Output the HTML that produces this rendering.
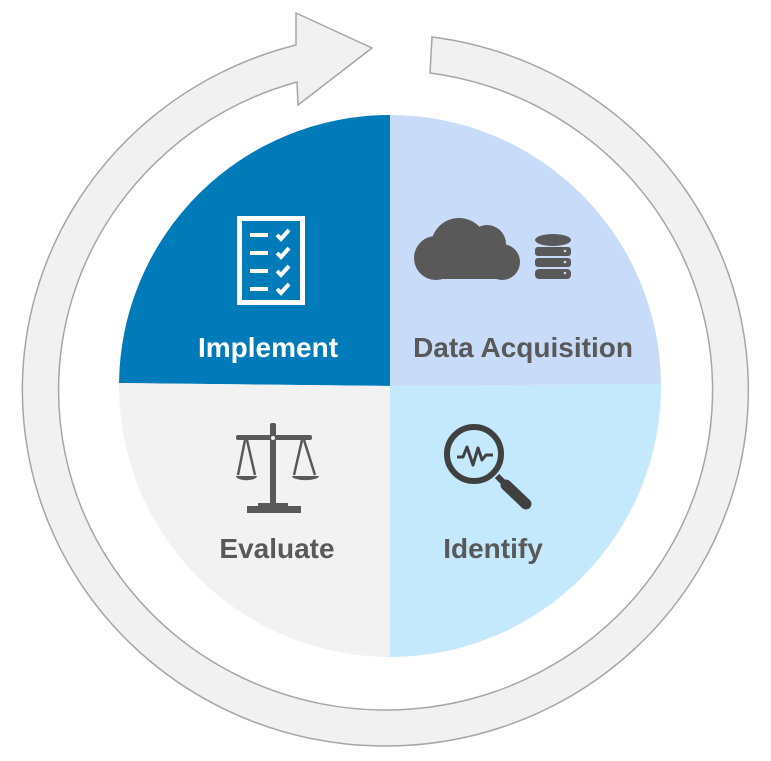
<!DOCTYPE html>
<html><head><style>body{margin:0;background:#fff}svg{display:block}</style></head><body>
<svg width="771" height="761" viewBox="0 0 771 761" xmlns="http://www.w3.org/2000/svg">
<path d="M432,37 A363,356 0 1 1 296,45 L296,13 L372,48 L298,105 L297,82 A327,320 0 1 0 430,73 Z" fill="#f1f1f1" stroke="#a6a6a6" stroke-width="1.5"/>
<path d="M390,386 L390,115 A271,271 0 0 0 119,383 Z" fill="#007bba"/>
<path d="M390,386 L390,115 A271,271 0 0 1 661,384 Z" fill="#c8dcf9"/>
<path d="M390,386 L119,383 A271,271 0 0 0 390,657 Z" fill="#f2f2f2"/>
<path d="M390,386 L661,384 A271,271 0 0 1 390,657 Z" fill="#c4e8fc"/>
<!-- clipboard -->
<rect x="239.5" y="218.5" width="63" height="84" fill="none" stroke="#fff" stroke-width="5"/>
<g stroke="#fff" stroke-width="4" fill="none">
<line x1="250" y1="235" x2="268" y2="235"/><line x1="250" y1="253" x2="268" y2="253"/><line x1="250" y1="271" x2="268" y2="271"/><line x1="250" y1="289" x2="268" y2="289"/>
<path d="M277,235 l4,4 l8,-9"/><path d="M277,253 l4,4 l8,-9"/><path d="M277,271 l4,4 l8,-9"/><path d="M277,289 l4,4 l8,-9"/>
</g>
<!-- cloud -->
<g fill="#595959">
<circle cx="436" cy="258" r="22"/><circle cx="459" cy="246" r="28"/><circle cx="487" cy="244" r="19"/><circle cx="502" cy="262" r="18"/>
<rect x="434" y="250" width="70" height="29" rx="4"/>
<ellipse cx="553" cy="240" rx="18" ry="6"/><rect x="535" y="247" width="36" height="9" rx="3"/><rect x="535" y="258" width="36" height="9" rx="3"/><rect x="535" y="269" width="36" height="10" rx="4"/>
</g>
<g fill="#c8dcf9"><circle cx="565" cy="251" r="1.3"/><circle cx="565" cy="262" r="1.3"/><circle cx="565" cy="273" r="1.3"/></g>
<!-- scale -->
<g fill="#595959" stroke="#595959">
<rect x="270" y="423" width="6" height="86" rx="2" stroke="none"/>
<rect x="236" y="435" width="76" height="5" rx="2" stroke="none"/>
<rect x="258" y="503" width="30" height="6" stroke="none"/>
<rect x="247" y="506" width="54" height="7" stroke="none"/>
<path d="M236,476 h21 a10,4 0 0 1 -21,0Z" stroke="none"/><path d="M292,476 h27 a13,4 0 0 1 -27,0Z" stroke="none"/>
<path d="M245,440 L238,475 M247,440 L255,475 M302,440 L294,475 M304,440 L315,475" stroke-width="2.5" fill="none"/>
</g>
<circle cx="273" cy="438" r="2" fill="#f2f2f2"/>
<!-- magnifier -->
<circle cx="474" cy="454" r="27" fill="none" stroke="#404040" stroke-width="6"/>
<path d="M457,457 h6 l4,-10 l6,18 l5,-17 l4,12 l4,-5 h7" fill="none" stroke="#404040" stroke-width="3" stroke-linejoin="round"/>
<line x1="497" y1="476" x2="503" y2="482" stroke="#404040" stroke-width="6"/>
<line x1="506" y1="485" x2="526" y2="504" stroke="#404040" stroke-width="11" stroke-linecap="round"/>
<g font-family="Liberation Sans, sans-serif" font-weight="bold" font-size="28" text-anchor="middle">
<text x="268" y="357" fill="#fff">Implement</text>
<text x="523" y="357" fill="#595959">Data Acquisition</text>
<text x="277" y="558" fill="#595959">Evaluate</text>
<text x="493" y="558" fill="#595959">Identify</text>
</g>
</svg>
</body></html>
